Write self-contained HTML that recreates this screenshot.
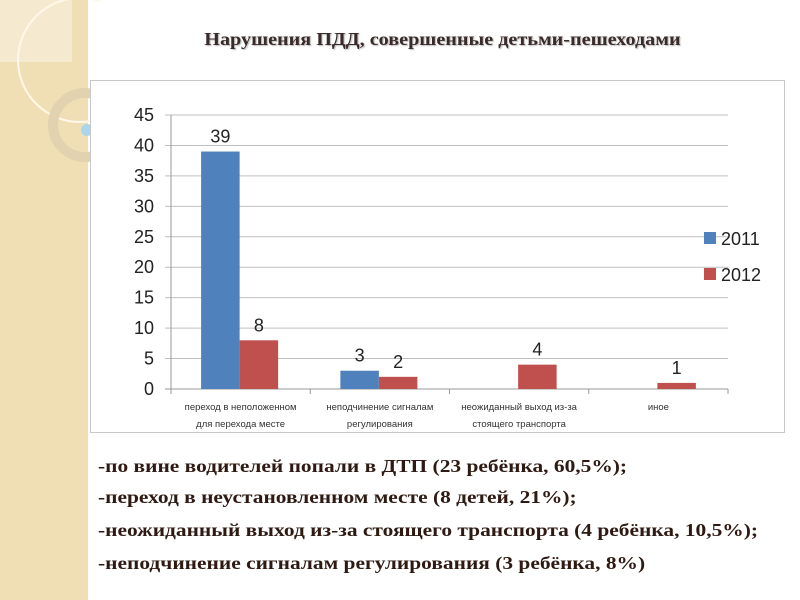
<!DOCTYPE html>
<html><head><meta charset="utf-8"><style>
body{margin:0;width:800px;height:600px;overflow:hidden;background:#fff;font-family:"Liberation Serif",serif;position:relative}
.side{position:absolute;left:0;top:0;width:88px;height:600px;background:#f0dfb4}
.title{position:absolute;left:0;width:885px;top:29px;text-align:center;font-weight:bold;font-size:18px;color:#3b2a2a;text-shadow:1px 1px 1px #bbb;transform:scaleX(1.12);transform-origin:443px 0}
.txt{position:absolute;left:98px;font-weight:bold;font-size:18px;color:#2e1a12;white-space:nowrap;transform:scaleX(1.19);transform-origin:0 0}
</style></head><body>
<div class="side"></div>
<svg style="position:absolute;left:0;top:0" width="100" height="200">
<rect x="0" y="0" width="72" height="62" fill="#f5ead0"/>
<circle cx="80" cy="60" r="62" fill="none" stroke="#fff8ea" stroke-width="2"/>
<circle cx="85" cy="125" r="32" fill="none" stroke="#e2d2b0" stroke-width="10"/>
<circle cx="87" cy="130" r="6" fill="#a9d6ea"/>
</svg>
<div class="title">Нарушения ПДД, совершенные детьми-пешеходами</div>
<svg id="chart" style="position:absolute;left:0;top:0" width="800" height="600"></svg>
<div class="txt" style="top:456px">-по вине водителей попали в ДТП (23 ребёнка, 60,5%);</div>
<div class="txt" style="top:487px">-переход в неустановленном месте (8 детей, 21%);</div>
<div class="txt" style="top:520px">-неожиданный выход из-за стоящего транспорта (4 ребёнка, 10,5%);</div>
<div class="txt" style="top:553px">-неподчинение сигналам регулирования (3 ребёнка, 8%)</div>
<script>
const categories=[["переход в неположенном","для перехода месте"],["неподчинение сигналам","регулирования"],["неожиданный выход из-за","стоящего транспорта"],["иное"]];
const series2011=[39,3,0,0];
const series2012=[8,2,4,1];
const yTicks=[0,5,10,15,20,25,30,35,40,45];
const NS="http://www.w3.org/2000/svg";
const svg=document.getElementById('chart');
const x0=171,x1=728,y0=389,yTop=115,ymax=45;
const cw=(x1-x0)/categories.length,bw=38.5;
const Y=v=>y0-(v/ymax)*(y0-yTop);
function el(t,a,p){const e=document.createElementNS(NS,t);for(const k in a)e.setAttribute(k,a[k]);(p||svg).appendChild(e);return e;}
const box=el('rect',{x:90.5,y:80.5,width:694,height:352,fill:'#fff',stroke:'#c8c8c8'});


yTicks.forEach(v=>{
 const g=el('line',{x1:x0-6,x2:x1,y1:Y(v),y2:Y(v),stroke:v===0?'#999':'#bfbfbf'});
 
 
 const t=el('text',{x:x0-17,y:Y(v)+6,'text-anchor':'end','font-family':'Liberation Sans, sans-serif','font-size':18,fill:'#222'});
 t.textContent=v;
 
 
});
el('line',{x1:x0,x2:x0,y1:yTop,y2:y0,stroke:'#999'});
for(let i=0;i<=categories.length;i++){el('line',{x1:x0+i*cw,x2:x0+i*cw,y1:y0,y2:y0+5,stroke:'#999'});}
function bar(v,x,c,lbl){
 const r=el('rect',{x:x,y:Y(v),width:bw,height:y0-Y(v),fill:c});
 
 
 if(v>0){const t=el('text',{x:x+bw/2,y:Y(v)-9,'text-anchor':'middle','font-family':'Liberation Sans, sans-serif','font-size':18,fill:'#222'});t.textContent=v;
 
 }
}
categories.forEach((c,i)=>{
 const cx=x0+i*cw+cw/2;
 bar(series2011[i],cx-bw-1,'#4f81bd','bar-2011');
 bar(series2012[i],cx-1,'#c0504d','bar-2012');
 c.forEach((ln,j)=>{const t=el('text',{x:cx,y:410+j*17,'text-anchor':'middle','font-family':'Liberation Sans, sans-serif','font-size':9.5,fill:'#333'});t.textContent=ln;
 
 });
});
[['2011','#4f81bd',238],['2012','#c0504d',274]].forEach(([n,c,y])=>{
 const r=el('rect',{x:704,y:y-6,width:12,height:12,fill:c});
 
 
 const t=el('text',{x:721,y:y+7,'font-family':'Liberation Sans, sans-serif','font-size':18,fill:'#222'});t.textContent=n;
 
 
});
</script>
</body></html>
